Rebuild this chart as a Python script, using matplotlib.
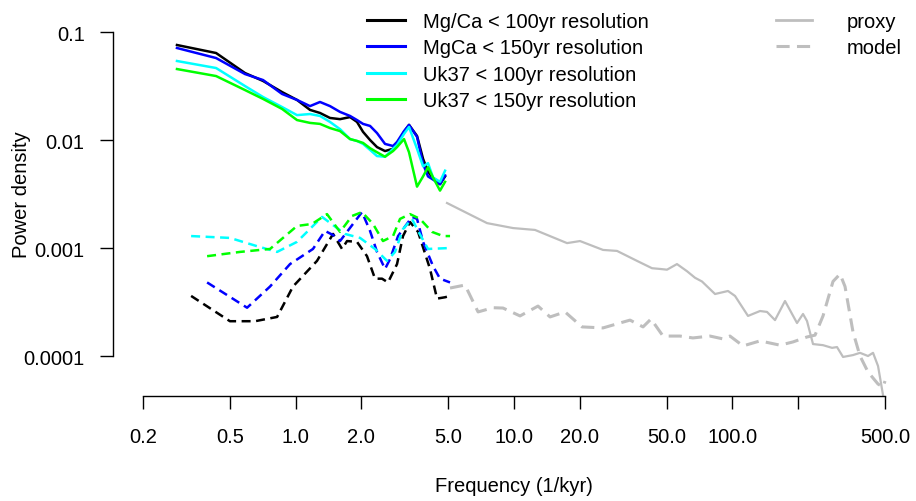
import numpy as np
import matplotlib.pyplot as plt
from matplotlib.lines import Line2D

plt.rcParams['font.family'] = ['Liberation Sans', 'DejaVu Sans']

# ------------------------------
# Proxy spectra (solid) - common frequency grid
# ------------------------------
freq_proxy = [0.286, 0.432, 0.586, 0.709, 0.866, 1.014, 1.163, 1.292, 1.436,
              1.596, 1.774, 1.909, 2.034, 2.19, 2.357, 2.565, 2.791, 2.911,
              3.134, 3.303, 3.594, 3.83, 4.036, 4.255, 4.58, 4.83]

mgca_100 = [0.0758, 0.0639, 0.0417, 0.0352, 0.0278, 0.0235, 0.0190, 0.0178,
            0.0160, 0.0156, 0.0163, 0.0147, 0.0119, 0.0100, 0.0086, 0.0079,
            0.0083, 0.0092, 0.0119, 0.0138, 0.0109, 0.0067, 0.0051, 0.0044,
            0.0039, 0.0046]
mgca_150 = [0.0711, 0.0574, 0.0408, 0.0359, 0.0267, 0.0235, 0.0206, 0.0225,
            0.0206, 0.0182, 0.0167, 0.0153, 0.0141, 0.0135, 0.0116, 0.0092,
            0.0088, 0.0096, 0.0121, 0.0138, 0.0107, 0.0060, 0.0046, 0.0043,
            0.0039, 0.0047]
uk37_100 = [0.0539, 0.0464, 0.0316, 0.0250, 0.0202, 0.0170, 0.0174, 0.0167,
            0.0147, 0.0126, 0.0102, 0.0098, 0.0092, 0.0081, 0.0071, 0.0070,
            0.0083, 0.0090, 0.0114, 0.0132, 0.0083, 0.0057, 0.0061, 0.0045,
            0.0041, 0.0052]
uk37_150 = [0.0454, 0.0391, 0.0290, 0.0240, 0.0194, 0.0153, 0.0144, 0.0141,
            0.0129, 0.0121, 0.0102, 0.0098, 0.0094, 0.0084, 0.0077, 0.0070,
            0.0079, 0.0086, 0.0102, 0.0077, 0.0037, 0.0046, 0.0056, 0.0045,
            0.0034, 0.0041]

# ------------------------------
# Model spectra at proxy sites (dashed)
# ------------------------------
freq_mgca_100_m = [0.332, 0.50, 0.651, 0.822, 0.972, 1.252, 1.483, 1.630,
                   1.718, 1.909, 2.121, 2.308, 2.485, 2.647, 2.911, 3.10,
                   3.338, 3.633, 4.122, 4.438, 4.83, 5.09]
mgca_100_m = [0.00036, 0.00021, 0.00021, 0.00023, 0.00044, 0.00076, 0.00135,
              0.00098, 0.00116, 0.00114, 0.00084, 0.00052, 0.00052, 0.00048,
              0.00071, 0.00129, 0.00174, 0.00141, 0.00064, 0.00034, 0.00035,
              0.00036]

freq_mgca_150_m = [0.393, 0.599, 0.763, 0.942, 1.20, 1.362, 1.514, 1.596,
                   2.012, 2.19, 2.357, 2.565, 2.704, 2.942, 3.41, 3.594, 3.83,
                   4.255, 4.58, 5.09]
mgca_150_m = [0.00048, 0.00028, 0.00044, 0.00071, 0.00098, 0.00144, 0.00129,
              0.00116, 0.00215, 0.00144, 0.00092, 0.00064, 0.00079, 0.00129,
              0.00194, 0.00186, 0.00114, 0.00068, 0.00052, 0.00048]

freq_uk37_100_m = [0.332, 0.50, 0.665, 0.822, 1.014, 1.32, 1.682, 1.971,
                   2.308, 2.619, 2.85, 3.10, 3.41, 3.633, 4.036, 5.09]
uk37_100_m = [0.00129, 0.00124, 0.00104, 0.00092, 0.00114, 0.00194, 0.00135,
              0.00124, 0.00098, 0.00076, 0.00092, 0.00150, 0.00186, 0.00144,
              0.00098, 0.00100]

freq_uk37_150_m = [0.393, 0.556, 0.763, 1.014, 1.188, 1.391, 1.596, 1.811,
                   2.012, 2.26, 2.51, 2.791, 3.004, 3.338, 3.71, 4.21, 4.73,
                   5.09]
uk37_150_m = [0.00084, 0.00092, 0.00098, 0.00160, 0.00167, 0.00206, 0.00141,
              0.00198, 0.00215, 0.00167, 0.00116, 0.00129, 0.00186, 0.00206,
              0.00186, 0.00141, 0.00129, 0.00129]

# ------------------------------
# High-frequency reference spectra (gray)
# ------------------------------
freq_hf_proxy = [4.93, 7.52, 9.89, 12.47, 17.48, 20.04, 25.54, 29.60, 36.55,
                 42.81, 46.58, 50.15, 55.7, 61.9, 67.4, 72.5, 83.2, 95.4,
                 102.7, 117.8, 133.7, 143.9, 156.6, 174.0, 197.5, 210.4,
                 219.4, 233.8, 259.8, 285.7, 301.1, 320.8, 356.4, 383.7,
                 417.5, 440.2, 464.0, 489.1]
hf_proxy = [0.00261, 0.00170, 0.00153, 0.00147, 0.00111, 0.00116, 0.00096,
            0.00094, 0.00076, 0.00065, 0.00064, 0.00063, 0.00071, 0.00061,
            0.00053, 0.00049, 0.000375, 0.00040, 0.00036, 0.000235,
            0.000261, 0.000256, 0.000215, 0.000323, 0.000202, 0.000245,
            0.000211, 0.000129, 0.000126, 0.000119, 0.000121, 0.000098,
            0.000102, 0.000107, 0.000100, 0.000107, 0.0000808, 0.0000435]

freq_hf_model = [5.09, 5.96, 6.84, 8.01, 8.90, 10.65, 12.87, 14.61, 17.11,
                 20.47, 25.54, 31.53, 33.96, 38.94, 42.36, 48.08, 57.5, 65.9,
                 78.9, 90.5, 97.4, 111.8, 133.7, 165.1, 189.3, 219.4, 238.8,
                 259.8, 288.6, 310.8, 327.6, 356.4, 383.7, 417.5, 464.0,
                 489.1, 499.5]
hf_model = [0.000426, 0.000454, 0.000256, 0.00028, 0.000278, 0.000235,
            0.00029, 0.00023, 0.000256, 0.000186, 0.000182, 0.000206,
            0.000215, 0.000186, 0.00022, 0.000153, 0.000153, 0.000147,
            0.000153, 0.000144, 0.000153, 0.000124, 0.000138, 0.000126,
            0.000135, 0.00015, 0.000156, 0.000235, 0.00049, 0.000574,
            0.00044, 0.000167, 0.0001, 0.0000711, 0.000055, 0.0000516,
            0.0000587]

x_ticks = [0.2, 0.5, 1, 2, 5, 10, 20, 50, 100, 200, 500]
x_ticklabels = ['0.2', '0.5', '1.0', '2.0', '5.0', '10.0', '20.0', '50.0',
                '100.0', '', '500.0']
y_ticks = [1e-4, 1e-3, 1e-2, 1e-1]
y_ticklabels = ['0.0001', '0.001', '0.01', '0.1']

FS = 14.5
W, H = 916, 502

fig = plt.figure(figsize=(W / 100, H / 100), dpi=100)
ax = fig.add_axes([113 / W, 1 - 397 / H, (905 - 113) / W, (397 - 15) / H])
ax.set_xscale('log')
ax.set_yscale('log')
ax.set_xlim(0.1457, 616.6)
ax.set_ylim(4.263e-5, 0.1468)

# gray reference spectra
ax.plot(freq_hf_proxy, hf_proxy, color='#BEBEBE', lw=1.6)
ax.plot(freq_hf_model, hf_model, color='#BEBEBE', lw=2.2,
        dashes=(4.3, 2.4))

# model dashed
dsh = (3.6, 2.2)
ax.plot(freq_mgca_100_m, mgca_100_m, color='black', lw=1.8, dashes=dsh)
ax.plot(freq_mgca_150_m, mgca_150_m, color='blue', lw=1.8, dashes=dsh)
ax.plot(freq_uk37_100_m, uk37_100_m, color='cyan', lw=1.8, dashes=dsh)
ax.plot(freq_uk37_150_m, uk37_150_m, color='#00FF00', lw=1.8, dashes=dsh)

# proxy solid
ax.plot(freq_proxy, mgca_100, color='black', lw=1.8)
ax.plot(freq_proxy, mgca_150, color='blue', lw=1.8)
ax.plot(freq_proxy, uk37_100, color='cyan', lw=1.8)
ax.plot(freq_proxy, uk37_150, color='#00FF00', lw=1.8)

for s in ['top', 'right']:
    ax.spines[s].set_visible(False)
ax.spines['left'].set_bounds(1e-4, 0.1)
ax.spines['bottom'].set_bounds(0.2, 500)
for s in ['left', 'bottom']:
    ax.spines[s].set_linewidth(1.0)

ax.set_xticks(x_ticks)
ax.set_xticklabels(x_ticklabels)
ax.set_yticks(y_ticks)
ax.set_yticklabels(y_ticklabels)
ax.minorticks_off()
ax.tick_params(axis='x', length=9.4, width=1.0, labelsize=FS, pad=13)
ax.tick_params(axis='y', length=9.4, width=1.0, labelsize=FS, pad=11)

fig.text(514 / W, 1 - 487 / H, 'Frequency (1/kyr)', ha='center',
         va='center', fontsize=FS)
fig.text(22 / W, 1 - 195 / H, 'Power density', ha='center', va='center',
         rotation=90, fontsize=FS)

# legends
h1 = [Line2D([], [], color=c, lw=2.2) for c in
      ['black', 'blue', 'cyan', '#00FF00']]
l1 = ['Mg/Ca < 100yr resolution', 'MgCa < 150yr resolution',
      'Uk37 < 100yr resolution', 'Uk37 < 150yr resolution']
leg1 = fig.legend(h1, l1, loc='upper left',
                  bbox_to_anchor=(367 / W, 1 - 13 / H), frameon=False,
                  fontsize=FS, handlelength=1.9, handletextpad=0.9,
                  labelspacing=0.365, borderpad=0, borderaxespad=0)

h2 = [Line2D([], [], color='#BEBEBE', lw=2.0),
      Line2D([], [], color='#BEBEBE', lw=2.2, dashes=(4.3, 2.4))]
leg2 = fig.legend(h2, ['proxy', 'model'], loc='upper left',
                  bbox_to_anchor=(776 / W, 1 - 13 / H), frameon=False,
                  fontsize=FS, handlelength=1.8, handletextpad=1.7,
                  labelspacing=0.365, borderpad=0, borderaxespad=0)

plt.savefig('out.png', dpi=100)
